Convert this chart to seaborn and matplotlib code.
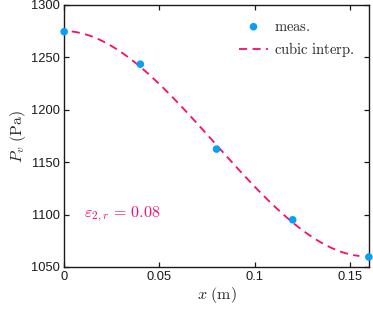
import numpy as np
import pandas as pd
import seaborn as sns
import matplotlib.pyplot as plt

# measured vapour pressure along x
x_meas = [0.0, 0.04, 0.08, 0.12, 0.16]
p_meas = [1274.5, 1243.5, 1162.5, 1095.0, 1059.5]
eps_label = r"$\varepsilon_{2,r}\,=\,0.08$"

x_ticks = [0, 0.05, 0.1, 0.15]
x_ticklabels = ["0", "0.05", "0.1", "0.15"]
y_ticks = [1050, 1100, 1150, 1200, 1250, 1300]

blue = "#0a9ff5"
pink = "#fa0a6a"

sns.set_theme(style="ticks")
plt.rcParams["mathtext.fontset"] = "cm"
plt.rcParams["font.family"] = ["Liberation Sans", "DejaVu Sans"]

# cubic fit of the measurements, drawn slightly inside the end points
coef = np.polyfit(x_meas, p_meas, 3)
x_fit = np.linspace(0.004, 0.155, 100)
curve = pd.DataFrame({"x": x_fit, "p": np.polyval(coef, x_fit)})
meas = pd.DataFrame({"x": x_meas, "p": p_meas})

fig = plt.figure(figsize=(3.73, 3.11), dpi=100)
ax = fig.add_axes([0.172, 0.1415, 0.817, 0.8425])

sns.lineplot(data=curve, x="x", y="p", ax=ax, color=pink, lw=1.3,
             linestyle=(0, (4.5, 3)), label=r"$\mathrm{cubic\ interp.}$", zorder=2)
sns.scatterplot(data=meas, x="x", y="p", ax=ax, color=blue, s=30,
                edgecolor="none", label=r"$\mathrm{meas.}$", zorder=3, clip_on=False)

ax.set_xlim(0, 0.16)
ax.set_ylim(1050, 1300)
ax.set_xticks(x_ticks)
ax.set_xticklabels(x_ticklabels)
ax.set_yticks(y_ticks)
ax.tick_params(direction="in", top=True, right=True, length=3.5, width=0.9,
               labelsize=9.3, colors="#1a1a1a", pad=3)
for s in ax.spines.values():
    s.set_linewidth(1.0)
    s.set_color("#1a1a1a")

ax.set_xlabel(r"$x\ (\mathrm{m})$", fontsize=11.5, labelpad=1)
ax.set_ylabel(r"$P_v\ (\mathrm{Pa})$", fontsize=11.5, labelpad=2)

ax.text(0.0105, 1100, eps_label, color=pink, fontsize=11.5, va="center")

h, l = ax.get_legend_handles_labels()
ax.legend(h[::-1], l[::-1], loc="upper right", frameon=False, fontsize=10.5,
          handlelength=2.0, handletextpad=0.4, borderaxespad=0.7,
          labelspacing=0.45, borderpad=0.3)

fig.savefig("out.png", dpi=100)
